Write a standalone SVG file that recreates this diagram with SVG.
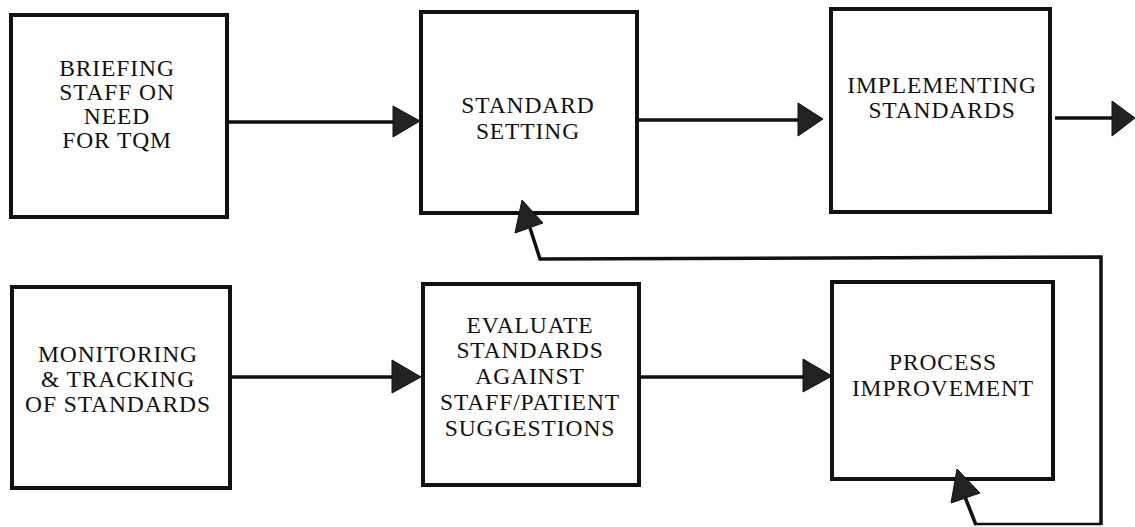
<svg xmlns="http://www.w3.org/2000/svg" width="1135" height="527" viewBox="0 0 1135 527">
<style>
.box{fill:#fff;stroke:#111;stroke-width:4}
.lbl{font-family:'Liberation Serif','DejaVu Serif','Times New Roman',serif;font-size:23.5px;letter-spacing:0.9px;fill:#111;text-anchor:middle}
.con{fill:none;stroke:#111;stroke-width:3.5}
.thin{fill:none;stroke:#111;stroke-width:2.5}
.head{fill:#222;stroke:#111;stroke-width:1}
</style>
<rect width="1135" height="527" fill="#fff"/>
<g id="n1"><rect class="box" x="11" y="15" width="216" height="202"/>
<text class="lbl" font-family="Liberation Serif, serif"><tspan x="117" y="76">BRIEFING</tspan><tspan x="117" y="100">STAFF ON</tspan><tspan x="117" y="124">NEED</tspan><tspan x="117" y="148">FOR TQM</tspan></text></g>
<g id="n2"><rect class="box" x="421" y="12" width="216" height="201"/>
<text class="lbl" font-family="Liberation Serif, serif"><tspan x="528" y="113">STANDARD</tspan><tspan x="528" y="139">SETTING</tspan></text></g>
<g id="n3"><rect class="box" x="831" y="9" width="219" height="203"/>
<text class="lbl" font-family="Liberation Serif, serif"><tspan x="942" y="93">IMPLEMENTING</tspan><tspan x="942" y="118">STANDARDS</tspan></text></g>
<g id="n4"><rect class="box" x="12" y="287" width="218" height="201"/>
<text class="lbl" font-family="Liberation Serif, serif"><tspan x="118" y="362">MONITORING</tspan><tspan x="118" y="387">&amp; TRACKING</tspan><tspan x="118" y="412">OF STANDARDS</tspan></text></g>
<g id="n5"><rect class="box" x="423" y="284" width="216" height="201"/>
<text class="lbl" font-family="Liberation Serif, serif"><tspan x="530" y="333">EVALUATE</tspan><tspan x="530" y="358">STANDARDS</tspan><tspan x="530" y="384">AGAINST</tspan><tspan x="530" y="410">STAFF/PATIENT</tspan><tspan x="530" y="436">SUGGESTIONS</tspan></text></g>
<g id="n6"><rect class="box" x="832" y="282" width="221" height="197"/>
<text class="lbl" font-family="Liberation Serif, serif"><tspan x="943" y="370">PROCESS</tspan><tspan x="943" y="396">IMPROVEMENT</tspan></text></g>
<g id="connectors">
<line class="con" x1="227" y1="122" x2="396" y2="122"/>
<polygon class="head" points="420,121 393,106 393,137"/>
<line class="con" x1="637" y1="120" x2="800" y2="120"/>
<polygon class="head" points="823,119 798,103 798,136"/>
<line class="con" x1="1055" y1="118" x2="1114" y2="118"/>
<polygon class="head" points="1135,118 1112,101 1112,136"/>
<line class="con" x1="230" y1="377" x2="395" y2="377"/>
<polygon class="head" points="421,377 392,360 392,393"/>
<line class="con" x1="639" y1="377" x2="805" y2="377"/>
<polygon class="head" points="832,376 803,359 803,392"/>
<polyline class="thin" points="975,524 1101,524"/>
<polyline class="con" points="1101,525 1101,257 540,259 530,228"/>
<polygon class="head" points="522,200 515,233 543,223"/>
<line class="con" x1="976" y1="525" x2="965" y2="497"/>
<polygon class="head" points="957,469 951,503 980,493"/>
</g>
</svg>
